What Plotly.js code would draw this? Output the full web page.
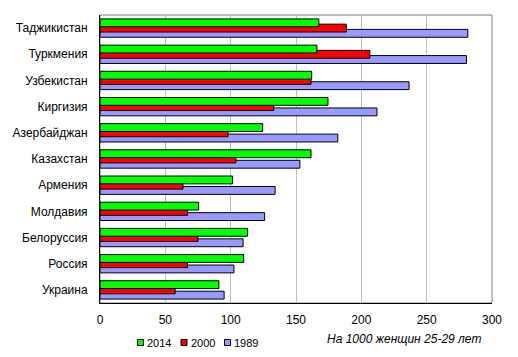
<!DOCTYPE html>
<html>
<head>
<meta charset="utf-8">
<script src="https://cdn.plot.ly/plotly-3.0.1.min.js"></script>
<style>html,body{margin:0;padding:0;background:#fff;}#chart{width:518px;height:357px;}</style>
</head>
<body>
<div id="chart"></div>
<script>
// Categories listed top to bottom as in the picture
const countries = ["Таджикистан","Туркмения","Узбекистан","Киргизия","Азербайджан","Казахстан","Армения","Молдавия","Белоруссия","Россия","Украина"];
const v2014 = [167.5,166,162,174.5,124.5,161.5,101.5,75.5,113,110,91];
const v2000 = [188.5,206.5,161.5,133,98,104,63.5,67,75,67,57.5];
const v1989 = [281.5,280.5,236.5,212,182,153,134,126,109.5,102.5,95];
const seriesNames = ["2014","2000","1989"];
const seriesColors = ["#00FF00","#FF0000","#9999FF"];
const xTicks = [0,50,100,150,200,250,300];
const axisNote = "На 1000 женщин 25-29 лет";

const W = 0.3;
const mk = (name, vals, color, off) => ({
  type: "bar", orientation: "h", name: name,
  x: vals, y: countries,
  width: W, offset: off,
  marker: {color: color, line: {color: "#000", width: 1}},
  showlegend: false, hoverinfo: "x"
});
// drawn bottom bar first so the upper bars overlap it
const traces = [
  mk(seriesNames[2], v1989, seriesColors[2], -0.35),
  mk(seriesNames[1], v2000, seriesColors[1], -0.15),
  mk(seriesNames[0], v2014, seriesColors[0], 0.05)
];

const L = 100, R = 26, T = 15, B = 54, FW = 518, FH = 357;
const PW = FW - L - R, PH = FH - T - B;
const px = x => (x - L) / PW;
const py = y => (FH - B - y) / PH;

const shapes = [{
  type: "rect", xref: "paper", yref: "paper", x0: 0, x1: 1, y0: 0, y1: 1,
  line: {color: "#808080", width: 1}, layer: "below"
}];
const annotations = [{
  xref: "paper", yref: "paper", x: px(483), y: py(338.5), xanchor: "right", yanchor: "middle",
  text: "<i>" + axisNote + "</i>", showarrow: false,
  font: {family: "Liberation Sans, Arial", size: 12, color: "#000"}
}];
const legX = [137.5, 181, 224.5];
seriesNames.forEach((n, i) => {
  shapes.push({
    type: "rect", xref: "paper", yref: "paper",
    x0: px(legX[i]), x1: px(legX[i] + 6), y0: py(345.5), y1: py(339.5),
    fillcolor: seriesColors[i], line: {color: "#000", width: 1}
  });
  annotations.push({
    xref: "paper", yref: "paper", x: px(legX[i] + 7.5), y: py(342.5),
    xanchor: "left", yanchor: "middle", text: n, showarrow: false,
    font: {family: "Liberation Sans, Arial", size: 11, color: "#000"}
  });
});

const layout = {
  width: FW, height: FH,
  margin: {l: L, r: R, t: T, b: B, pad: 0},
  paper_bgcolor: "#fff", plot_bgcolor: "#fff",
  barmode: "overlay",
  font: {family: "Liberation Sans, Arial", size: 12, color: "#000"},
  xaxis: {
    range: [0, 300], tickvals: xTicks, ticktext: xTicks.map(String),
    showgrid: true, gridcolor: "#BFBFBF", gridwidth: 1,
    zeroline: false, showline: true, linecolor: "#000", linewidth: 1,
    ticks: "", ticklabelstandoff: 6, fixedrange: true,
    tickfont: {family: "Liberation Sans, Arial", size: 12, color: "#000"}
  },
  yaxis: {
    type: "category", categoryorder: "array", categoryarray: countries.slice().reverse(),
    range: [-0.5, countries.length - 0.5],
    showgrid: false, zeroline: false, showline: true, linecolor: "#000", linewidth: 1,
    ticks: "", ticklabelstandoff: 9, fixedrange: true,
    tickfont: {family: "Liberation Sans, Arial", size: 12, color: "#000"}
  },
  shapes: shapes,
  annotations: annotations,
  showlegend: false
};

Plotly.newPlot("chart", traces, layout, {displayModeBar: false, staticPlot: true});
</script>
</body>
</html>
